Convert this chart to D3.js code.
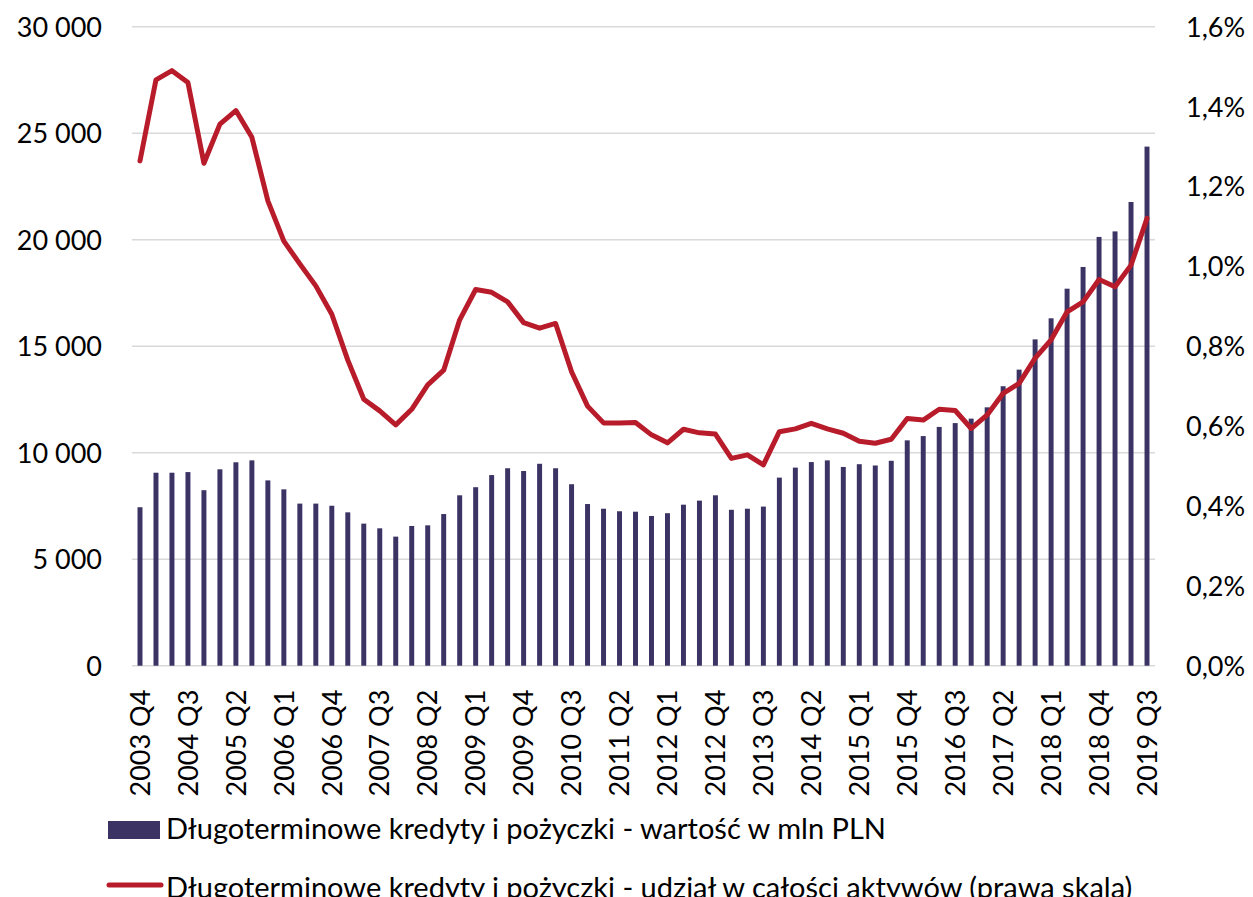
<!DOCTYPE html>
<html>
<head>
    <meta charset="utf-8">
    <title>Długoterminowe kredyty i pożyczki</title>
    <style type="text/css">
        body{
            margin:0;
            background:#fff;
        }
        svg text{
            font-family: Lato, "Open Sans", sans-serif;
            fill:#000;
        }
    </style>
</head>
<body>

<div id="chart"></div>

<script src="https://cdn.jsdelivr.net/npm/d3@7"></script>
<script type="text/javascript">

var quarters = [
    '2003 Q4',
    '2004 Q1','2004 Q2','2004 Q3','2004 Q4',
    '2005 Q1','2005 Q2','2005 Q3','2005 Q4',
    '2006 Q1','2006 Q2','2006 Q3','2006 Q4',
    '2007 Q1','2007 Q2','2007 Q3','2007 Q4',
    '2008 Q1','2008 Q2','2008 Q3','2008 Q4',
    '2009 Q1','2009 Q2','2009 Q3','2009 Q4',
    '2010 Q1','2010 Q2','2010 Q3','2010 Q4',
    '2011 Q1','2011 Q2','2011 Q3','2011 Q4',
    '2012 Q1','2012 Q2','2012 Q3','2012 Q4',
    '2013 Q1','2013 Q2','2013 Q3','2013 Q4',
    '2014 Q1','2014 Q2','2014 Q3','2014 Q4',
    '2015 Q1','2015 Q2','2015 Q3','2015 Q4',
    '2016 Q1','2016 Q2','2016 Q3','2016 Q4',
    '2017 Q1','2017 Q2','2017 Q3','2017 Q4',
    '2018 Q1','2018 Q2','2018 Q3','2018 Q4',
    '2019 Q1','2019 Q2','2019 Q3'
];

// wartość w mln PLN (lewa skala)
var loansValue = [
    7440, 9060, 9060, 9090, 8240, 9220, 9550, 9640, 8700, 8280,
    7610, 7610, 7510, 7200, 6670, 6450, 6060, 6560, 6590, 7120,
    8000, 8380, 8950, 9270, 9140, 9480, 9270, 8520, 7590, 7370,
    7250, 7230, 7030, 7160, 7560, 7750, 8000, 7320, 7370, 7470,
    8830, 9300, 9560, 9640, 9330, 9460, 9400, 9620, 10580, 10780,
    11210, 11390, 11600, 12130, 13120, 13900, 15320, 16310, 17700, 18720,
    20130, 20390, 21770, 24370
];

// udział w całości aktywów, % (prawa skala)
var loansShare = [
    1.264, 1.467, 1.490, 1.460, 1.258, 1.356, 1.390, 1.323, 1.164, 1.063,
    1.006, 0.951, 0.880, 0.765, 0.667, 0.638, 0.603, 0.642, 0.703, 0.740,
    0.866, 0.942, 0.935, 0.911, 0.859, 0.845, 0.857, 0.736, 0.650, 0.608,
    0.608, 0.609, 0.578, 0.558, 0.592, 0.583, 0.580, 0.519, 0.528, 0.503,
    0.586, 0.593, 0.607, 0.593, 0.582, 0.562, 0.557, 0.567, 0.619, 0.615,
    0.642, 0.639, 0.594, 0.628, 0.682, 0.707, 0.770, 0.816, 0.886, 0.911,
    0.967, 0.949, 1.003, 1.120
];

var leftTicks  = [0, 5000, 10000, 15000, 20000, 25000, 30000];
var rightTicks = [0, 0.2, 0.4, 0.6, 0.8, 1.0, 1.2, 1.4, 1.6];

var legendLabels = [
    'Długoterminowe kredyty i pożyczki - wartość w mln PLN',
    'Długoterminowe kredyty i pożyczki - udział w całości aktywów (prawa skala)'
];


var width   = 1253,
    height  = 897,
    plotL   = 132,
    plotR   = 1155,
    plotT   = 26.7,
    plotB   = 665.7;

var barColor  = '#3b3363',
    lineColor = '#b81c2b',
    gridColor = '#d9d9d9';

var pl = d3.formatLocale({decimal: ',', thousands: ' ', grouping: [3], currency: ['', '']});
var fmtLeft  = pl.format(',.0f'),
    fmtRight = function(d){ return pl.format('.1f')(d) + '%' };

var svg = d3.select('#chart')
    .append('svg')
    .attr('width', width)
    .attr('height', height);

var x = d3.scaleBand()
    .domain(quarters)
    .range([plotL, plotR])
    .paddingInner(0.69)
    .paddingOuter(0.345);

var yL = d3.scaleLinear().domain([0, 30000]).range([plotB, plotT]);
var yR = d3.scaleLinear().domain([0, 1.6]).range([plotB, plotT]);

// gridlines
svg.append('g')
    .selectAll('line')
    .data(leftTicks)
    .join('line')
    .attr('x1', plotL)
    .attr('x2', plotR)
    .attr('y1', function(d){ return yL(d) })
    .attr('y2', function(d){ return yL(d) })
    .attr('stroke', gridColor)
    .attr('stroke-width', 1.5);

// left axis
var axL = svg.append('g')
    .attr('transform', 'translate(' + (plotL - 30) + ',0)')
    .call(d3.axisLeft(yL).tickValues(leftTicks).tickFormat(fmtLeft).tickSize(0).tickPadding(0));
axL.select('.domain').remove();
axL.selectAll('text')
    .style('font-size', '27px')
    .attr('dy', '0.35em');

// right axis
var axR = svg.append('g')
    .attr('transform', 'translate(' + (plotR + 31) + ',0)')
    .call(d3.axisRight(yR).tickValues(rightTicks).tickFormat(fmtRight).tickSize(0).tickPadding(0));
axR.select('.domain').remove();
axR.selectAll('text')
    .style('font-size', '27px')
    .attr('dy', '0.35em');

// bars
svg.append('g')
    .selectAll('rect')
    .data(loansValue)
    .join('rect')
    .attr('x', function(d, i){ return x(quarters[i]) })
    .attr('width', x.bandwidth())
    .attr('y', function(d){ return yL(d) })
    .attr('height', function(d){ return yL(0) - yL(d) })
    .attr('fill', barColor);

// line
var line = d3.line()
    .x(function(d, i){ return x(quarters[i]) + x.bandwidth()/2 })
    .y(function(d){ return yR(d) });

svg.append('path')
    .datum(loansShare)
    .attr('d', line)
    .attr('fill', 'none')
    .attr('stroke', lineColor)
    .attr('stroke-width', 5)
    .attr('stroke-linejoin', 'round')
    .attr('stroke-linecap', 'round');

// x axis, every third quarter
var axX = svg.append('g')
    .attr('transform', 'translate(0,' + plotB + ')')
    .call(d3.axisBottom(x)
        .tickValues(quarters.filter(function(d, i){ return i % 3 === 0 }))
        .tickSize(0));
axX.select('.domain').remove();
axX.selectAll('text')
    .style('font-size', '27px')
    .attr('text-anchor', 'end')
    .attr('transform', 'rotate(-90)')
    .attr('x', -24)
    .attr('y', 0)
    .attr('dy', '0.36em');

// legend
var lg = svg.append('g');
lg.append('rect')
    .attr('x', 108).attr('y', 821)
    .attr('width', 52).attr('height', 18)
    .attr('fill', barColor);
lg.append('line')
    .attr('x1', 109).attr('x2', 161)
    .attr('y1', 885).attr('y2', 885)
    .attr('stroke', lineColor)
    .attr('stroke-width', 5)
    .attr('stroke-linecap', 'round');
lg.selectAll('text')
    .data(legendLabels)
    .join('text')
    .attr('x', 166)
    .attr('y', function(d, i){ return i ? 898 : 839 })
    .style('font-size', '29px')
    .text(function(d){ return d });

</script>
</body>
</html>
